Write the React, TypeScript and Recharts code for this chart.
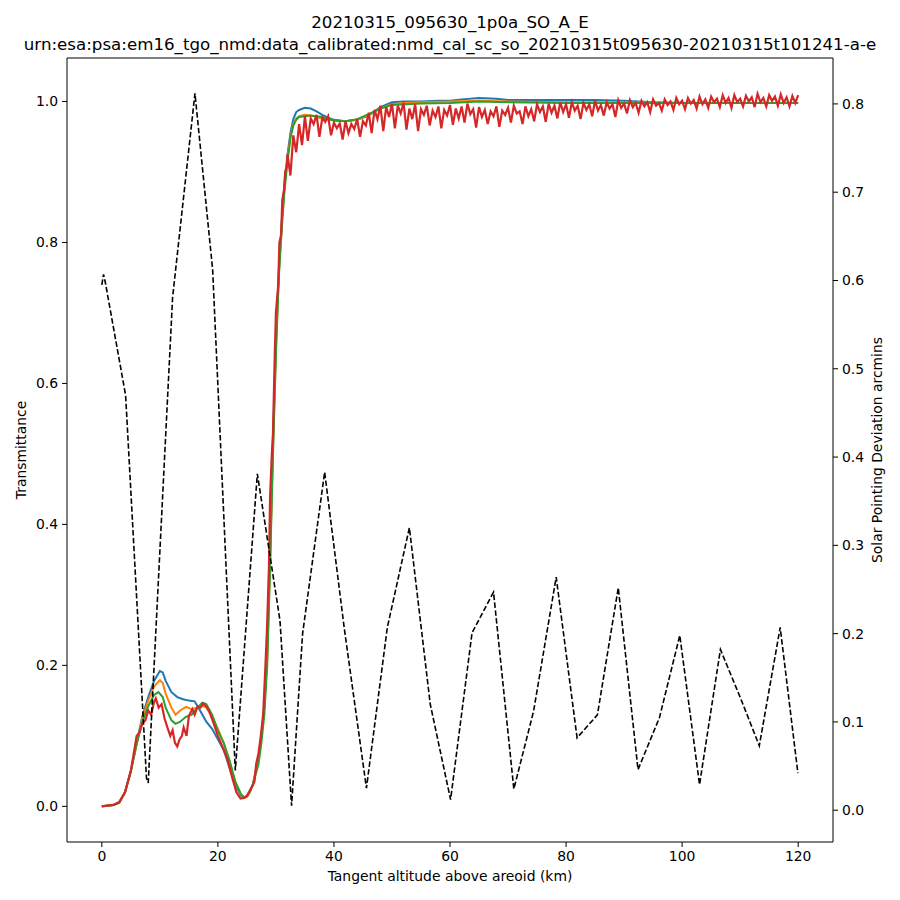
import React from 'react';
import { LineChart, Line, XAxis, YAxis, ReferenceLine } from 'recharts';

const FONT = '"DejaVu Sans", sans-serif';

const xTicks = [0, 20, 40, 60, 80, 100, 120];
const leftTicks = [0, 0.2, 0.4, 0.6, 0.8, 1.0];
const rightTicks = [0, 0.1, 0.2, 0.3, 0.4, 0.5, 0.6, 0.7, 0.8];

// Solar pointing deviation (dashed)
const devAlt = [0, 0.3, 0.6, 4.1, 7.7, 8.0, 12.2, 16.05, 19.1, 23.0, 26.8, 30.7, 32.7, 34.6, 38.4, 41.8, 45.6, 49.2, 53.0, 56.6, 60.1, 63.8, 67.5, 71.0, 74.4, 78.3, 81.9, 85.4, 89.0, 92.4, 96.1, 99.6, 103.0, 106.6, 110.0, 113.3, 116.9, 119.95];
const devVal = [0.595, 0.607, 0.598, 0.47, 0.036, 0.031, 0.581, 0.812, 0.612, 0.045, 0.381, 0.215, 0.005, 0.2, 0.383, 0.205, 0.025, 0.207, 0.32, 0.12, 0.012, 0.201, 0.247, 0.024, 0.112, 0.264, 0.082, 0.108, 0.252, 0.046, 0.105, 0.198, 0.029, 0.182, 0.128, 0.073, 0.207, 0.042];

// Blue
const blueAlt = [0, 2, 3, 4, 5, 6, 7, 8, 9, 10, 10.5, 11, 12, 13, 14, 15, 16, 17, 18, 19, 20, 21, 22, 23, 24, 24.5, 25, 26, 26.8, 27.5, 28, 28.5, 29, 29.5, 30, 30.5, 31, 31.5, 32, 32.5, 33, 33.5, 34, 35, 36, 37, 38, 39, 40, 41, 42, 44, 46, 48, 50, 52, 55, 58, 60, 62, 65, 68, 70, 75, 80, 85, 90, 95, 100, 105, 110, 115, 120];
const blueVal = [0, 0.002, 0.005, 0.02, 0.05, 0.09, 0.128, 0.155, 0.178, 0.192, 0.19, 0.178, 0.162, 0.155, 0.152, 0.15, 0.149, 0.135, 0.12, 0.11, 0.095, 0.08, 0.055, 0.03, 0.015, 0.012, 0.014, 0.03, 0.06, 0.1, 0.14, 0.22, 0.36, 0.52, 0.66, 0.76, 0.83, 0.885, 0.925, 0.955, 0.975, 0.985, 0.988, 0.991, 0.99, 0.986, 0.981, 0.977, 0.974, 0.973, 0.972, 0.974, 0.98, 0.992, 0.999, 1.0, 1.0, 1.001, 1.001, 1.003, 1.005, 1.004, 1.002, 1.002, 1.002, 1.002, 1.001, 0.999, 0.998, 0.998, 0.998, 0.998, 0.998];

// Orange
const orangeAlt = [0, 2, 3, 4, 5, 6, 7, 8, 9, 10, 10.5, 11, 12, 12.7, 13.5, 14.5, 15.5, 16.5, 17.3, 18, 19, 20, 21, 22, 23, 24, 24.6, 25.2, 26, 27, 27.5, 28, 28.5, 29, 29.5, 30, 30.5, 31, 31.5, 32, 32.5, 33, 33.5, 34, 35, 36, 37, 38, 40, 42, 44, 46, 48, 50, 52, 55, 60, 65, 70, 80, 90, 100, 110, 120];
const orangeVal = [0, 0.002, 0.005, 0.02, 0.05, 0.088, 0.125, 0.15, 0.17, 0.179, 0.175, 0.16, 0.14, 0.13, 0.136, 0.141, 0.138, 0.14, 0.143, 0.14, 0.128, 0.11, 0.09, 0.065, 0.035, 0.016, 0.012, 0.015, 0.03, 0.07, 0.1, 0.14, 0.21, 0.35, 0.51, 0.65, 0.755, 0.825, 0.88, 0.92, 0.95, 0.968, 0.976, 0.979, 0.981, 0.98, 0.978, 0.976, 0.973, 0.972, 0.974, 0.981, 0.99, 0.996, 0.998, 0.999, 1.0, 1.001, 1.0, 0.999, 0.999, 0.998, 0.998, 0.998];

// Green
const greenAlt = [0, 2, 3, 4, 5, 6, 7, 8, 9, 9.75, 10.5, 11, 12, 12.7, 13.5, 14.5, 15.5, 16.5, 17.3, 18, 19, 20, 21, 22, 23, 24, 24.5, 25, 25.5, 26, 27, 27.5, 28, 28.5, 29, 29.5, 30, 30.5, 31, 31.5, 32, 32.5, 33, 33.5, 34, 36, 38, 40, 42, 44, 46, 48, 50, 55, 60, 65, 70, 80, 90, 100, 110, 120];
const greenVal = [0, 0.002, 0.005, 0.02, 0.05, 0.088, 0.12, 0.142, 0.158, 0.162, 0.155, 0.14, 0.122, 0.117, 0.12, 0.127, 0.13, 0.14, 0.147, 0.145, 0.13, 0.107, 0.09, 0.065, 0.035, 0.017, 0.013, 0.014, 0.02, 0.03, 0.06, 0.09, 0.13, 0.2, 0.34, 0.5, 0.64, 0.75, 0.82, 0.875, 0.915, 0.948, 0.966, 0.974, 0.978, 0.98, 0.978, 0.973, 0.972, 0.975, 0.982, 0.99, 0.995, 0.997, 0.998, 1.0, 0.999, 0.998, 0.998, 0.998, 0.998, 0.998];

// Red (noisy)
const redAlt = [0, 2, 3, 4, 5, 5.5, 6, 6.5, 7, 7.5, 8, 8.5, 9, 9.3, 9.8, 10.3, 10.8, 11.3, 11.8, 12.2, 12.6, 13, 13.4, 13.8, 14.1, 14.6, 15, 15.6, 16, 16.5, 17, 17.5, 18, 18.5, 19.3, 20, 21, 21.6, 22.5, 23.2, 23.9, 24.5, 25, 25.5, 26, 26.3, 26.6, 27, 27.4, 27.8, 28.2, 28.5, 28.8, 29, 29.3, 29.5, 29.8, 30, 30.2, 30.4, 30.6, 30.9, 31.1, 31.4, 31.6, 31.9,
  32, 32.5, 33, 33.5, 34, 34.5, 35, 35.5, 36, 36.5, 37, 37.5, 38, 38.5, 39, 39.5, 40, 40.5, 41, 41.5, 42, 42.5, 43, 43.5, 44, 44.5, 45, 45.5, 46, 46.5, 47, 47.5, 48, 48.5, 49, 49.5,
  50, 50.5, 51, 51.5, 52, 52.5, 53, 53.5, 54, 54.5, 55, 55.5, 56, 56.5, 57, 57.5, 58, 58.5, 59, 59.5, 60, 60.5, 61, 61.5, 62, 62.5, 63, 63.5, 64, 64.5, 65, 65.5, 66, 66.5, 67, 67.5, 68, 68.5, 69, 69.5,
  70, 70.5, 71, 71.5, 72, 72.5, 73, 73.5, 74, 74.5, 75, 75.5, 76, 76.5, 77, 77.5, 78, 78.5, 79, 79.5, 80, 80.5, 81, 81.5, 82, 82.5, 83, 83.5, 84, 84.5, 85, 85.5, 86, 86.5, 87, 87.5, 88, 88.5, 89, 89.5,
  90, 90.5, 91, 91.5, 92, 92.5, 93, 93.5, 94, 94.5, 95, 95.5, 96, 96.5, 97, 97.5, 98, 98.5, 99, 99.5, 100, 100.5, 101, 101.5, 102, 102.5, 103, 103.5, 104, 104.5, 105, 105.5, 106, 106.5, 107, 107.5, 108, 108.5, 109, 109.5,
  110, 110.5, 111, 111.5, 112, 112.5, 113, 113.5, 114, 114.5, 115, 115.5, 116, 116.5, 117, 117.5, 118, 118.5, 119, 119.5, 120];
const redVal = [0, 0.002, 0.006, 0.02, 0.05, 0.075, 0.1, 0.105, 0.118, 0.122, 0.136, 0.13, 0.148, 0.153, 0.14, 0.145, 0.125, 0.112, 0.1, 0.108, 0.09, 0.085, 0.095, 0.1, 0.112, 0.1, 0.128, 0.138, 0.13, 0.142, 0.14, 0.146, 0.142, 0.135, 0.117, 0.1, 0.08, 0.068, 0.04, 0.02, 0.011, 0.012, 0.015, 0.022, 0.03, 0.035, 0.06, 0.075, 0.1, 0.13, 0.2, 0.26, 0.34, 0.44, 0.5, 0.53, 0.64, 0.7, 0.72, 0.74, 0.8, 0.81, 0.86, 0.875, 0.9, 0.91,
  0.925, 0.895, 0.952, 0.928, 0.968, 0.938, 0.979, 0.944, 0.976, 0.968, 0.981, 0.95, 0.977, 0.971, 0.979, 0.952, 0.97, 0.962, 0.969, 0.946, 0.972, 0.955, 0.968, 0.961, 0.975, 0.95, 0.972, 0.966, 0.984, 0.955, 0.988, 0.975, 0.994, 0.958, 0.992, 0.978,
  0.997, 0.962, 0.994, 0.983, 0.998, 0.96, 0.99, 0.975, 0.996, 0.958, 0.989, 0.981, 0.994, 0.966, 0.987, 0.978, 0.993, 0.962, 0.988, 0.98, 0.995, 0.967, 0.99, 0.976, 0.993, 0.97, 0.997, 0.982, 0.989, 0.963, 0.992, 0.978, 0.988, 0.968, 0.986, 0.979, 0.993, 0.964, 0.987, 0.981,
  0.991, 0.97, 0.994, 0.983, 0.986, 0.968, 0.993, 0.979, 0.989, 0.972, 0.996, 0.985, 0.993, 0.971, 0.997, 0.984, 0.994, 0.976, 0.999, 0.985, 0.996, 0.977, 0.999, 0.987, 0.994, 0.975, 0.998, 0.988, 0.996, 0.979, 1.001, 0.987, 0.995, 0.98, 0.999, 0.99, 0.996, 0.978, 1.002, 0.991,
  0.997, 0.983, 1.002, 0.992, 0.998, 0.984, 1.001, 0.993, 0.999, 0.985, 1.003, 0.994, 0.998, 0.987, 1.003, 0.995, 1.0, 0.988, 1.005, 0.996, 1.001, 0.989, 1.005, 0.997, 1.002, 0.99, 1.007, 0.996, 1.003, 0.991, 1.007, 0.999, 1.004, 0.992, 1.009, 0.998, 1.005, 0.991, 1.009, 0.999,
  1.004, 0.993, 1.008, 1.0, 1.006, 0.992, 1.011, 0.999, 1.005, 0.993, 1.009, 1.001, 1.007, 0.994, 1.01, 0.998, 1.006, 0.993, 1.008, 0.998, 1.009];

const toRows = (xs: number[], ys: number[]) => xs.map((x, i) => ({ x, v: ys[i] }));

const devData = toRows(devAlt, devVal);
const blueData = toRows(blueAlt, blueVal);
const orangeData = toRows(orangeAlt, orangeVal);
const greenData = toRows(greenAlt, greenVal);
const redData = toRows(redAlt, redVal);

const Y_LEFT_DOMAIN: [number, number] = [-0.0506, 1.0617];
const tickStyle = { fill: '#000', fontSize: 13.9, fontFamily: FONT };

export default function App() {
  return (
    <div style={{ position: 'absolute', left: 0, top: 0, width: 900, height: 900, background: '#fff', fontFamily: FONT }}>
      <div style={{ position: 'absolute', left: 0, width: 900, top: 12, textAlign: 'center', fontSize: 16.67, lineHeight: '22px', color: '#000' }}>
        <div>20210315_095630_1p0a_SO_A_E</div>
        <div>urn:esa:psa:em16_tgo_nmd:data_calibrated:nmd_cal_sc_so_20210315t095630-20210315t101241-a-e</div>
      </div>
      <LineChart width={900} height={900} margin={{ top: 58, right: 7, bottom: 18, left: 7 }}>
        <XAxis xAxisId="x" dataKey="x" type="number" domain={[-6, 126]} ticks={xTicks} allowDataOverflow
          height={40} stroke="#000" tick={tickStyle} tickSize={5} tickMargin={4} />
        <YAxis yAxisId="left" type="number" domain={Y_LEFT_DOMAIN} ticks={leftTicks} allowDataOverflow
          width={60} stroke="#000" tick={tickStyle} tickSize={5} tickMargin={4} tickFormatter={(v: number) => v.toFixed(1)} />
        <YAxis yAxisId="right" orientation="right" type="number" domain={[-0.036, 0.852]} ticks={rightTicks} allowDataOverflow
          width={60} stroke="#000" tick={tickStyle} tickSize={5} tickMargin={4} tickFormatter={(v: number) => v.toFixed(1)} />
        <ReferenceLine xAxisId="x" yAxisId="left" y={Y_LEFT_DOMAIN[1]} stroke="#000" strokeWidth={1} ifOverflow="visible" />
        <Line xAxisId="x" yAxisId="left" data={blueData} dataKey="v" stroke="#1f77b4" strokeWidth={2} dot={false} activeDot={false} isAnimationActive={false} />
        <Line xAxisId="x" yAxisId="left" data={orangeData} dataKey="v" stroke="#ff7f0e" strokeWidth={2} dot={false} activeDot={false} isAnimationActive={false} />
        <Line xAxisId="x" yAxisId="left" data={greenData} dataKey="v" stroke="#2ca02c" strokeWidth={2} dot={false} activeDot={false} isAnimationActive={false} />
        <Line xAxisId="x" yAxisId="left" data={redData} dataKey="v" stroke="#d62728" strokeWidth={2.2} dot={false} activeDot={false} isAnimationActive={false} strokeLinejoin="miter" />
        <Line xAxisId="x" yAxisId="right" data={devData} dataKey="v" stroke="#000" strokeWidth={1.6} strokeDasharray="5.5 2.4" dot={false} activeDot={false} isAnimationActive={false} />
      </LineChart>
      <div style={{ position: 'absolute', left: 0, width: 900, top: 868, textAlign: 'center', fontSize: 13.9, color: '#000' }}>
        Tangent altitude above areoid (km)
      </div>
      <div style={{ position: 'absolute', left: 21, top: 450, transform: 'translate(-50%, -50%) rotate(-90deg)', fontSize: 13.9, color: '#000', whiteSpace: 'nowrap' }}>
        Transmittance
      </div>
      <div style={{ position: 'absolute', left: 877, top: 450, transform: 'translate(-50%, -50%) rotate(-90deg)', fontSize: 13.9, color: '#000', whiteSpace: 'nowrap' }}>
        Solar Pointing Deviation arcmins
      </div>
    </div>
  );
}
